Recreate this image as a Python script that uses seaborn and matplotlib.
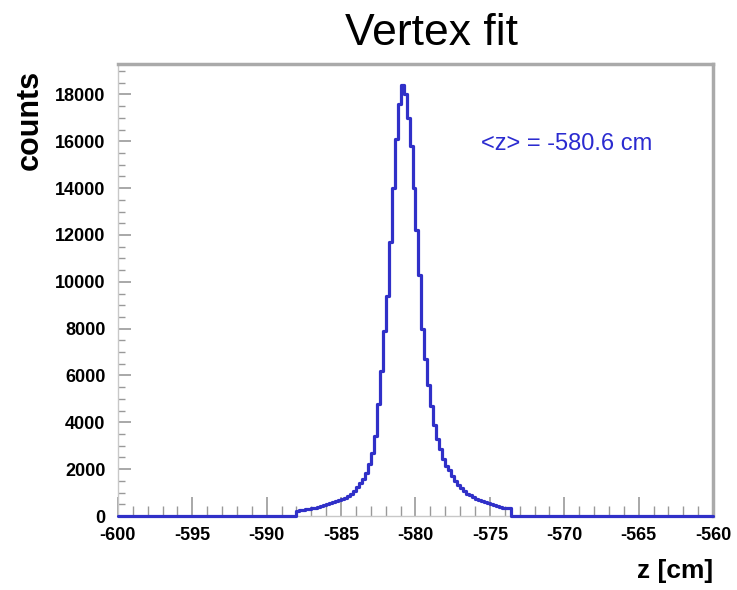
import numpy as np
import pandas as pd
import matplotlib
matplotlib.use("Agg")
import matplotlib.pyplot as plt
from matplotlib.ticker import MultipleLocator
import seaborn as sns

# ---- data ----
z_range = (-600.0, -560.0)
bin_width = 0.2
first_nonzero_edge = -588.0
counts = [
    200, 240, 270, 290, 310, 330, 360, 400, 430, 470,
    510, 550, 600, 650, 690, 730, 790, 850, 950, 1080,
    1220, 1400, 1600, 1850, 2200, 2700, 3400, 4800, 6200, 7900,
    9400, 11700, 14000, 16100, 17600, 18400, 18000, 17000, 15800, 14000,
    12200, 10300, 8000, 6700, 5600, 4700, 3900, 3300, 2850, 2450,
    2150, 1950, 1700, 1480, 1320, 1180, 1060, 960, 880, 800,
    730, 680, 630, 580, 540, 500, 460, 420, 390, 360,
    340, 330,
]
x_ticks = [-600, -595, -590, -585, -580, -575, -570, -565, -560]
y_ticks = [0, 2000, 4000, 6000, 8000, 10000, 12000, 14000, 16000, 18000]
title = "Vertex fit"
annotation = "<z> = -580.6 cm"

# ---- build histogram table ----
n_bins = int(round((z_range[1] - z_range[0]) / bin_width))
edges = np.linspace(z_range[0], z_range[1], n_bins + 1)
centers = (edges[:-1] + edges[1:]) / 2
weights = np.zeros(n_bins)
start = int(round((first_nonzero_edge - z_range[0]) / bin_width))
weights[start:start + len(counts)] = counts
df = pd.DataFrame({"z": centers, "w": weights})

sns.set_style("white")
plt.rcParams["font.family"] = ["Liberation Sans", "DejaVu Sans"]
plt.rcParams["text.color"] = "black"

fig = plt.figure(figsize=(7.37, 5.90), dpi=100)
ax = fig.add_axes([0.160, 0.1254, 0.8075, 0.7661])

line_color = "#3030c8"
sns.histplot(data=df, x="z", weights="w", binwidth=bin_width,
             binrange=z_range, element="step",
             fill=False, color=line_color, linewidth=2.3, ax=ax)
for art in ax.lines + ax.collections + ax.patches:
    art.set_clip_on(False)
    art.set_zorder(5)

ax.set_xlim(*z_range)
ax.set_ylim(0, 19300)
ax.set_xticks(x_ticks)
ax.set_xticklabels([str(t) for t in x_ticks])
ax.set_yticks(y_ticks)
ax.set_yticklabels([str(t) for t in y_ticks])
ax.xaxis.set_minor_locator(MultipleLocator(1))
ax.yaxis.set_minor_locator(MultipleLocator(500))

ax.tick_params(axis="both", which="both", direction="in", colors="#999999",
               labelcolor="black", bottom=True, left=True)
ax.tick_params(axis="x", which="major", length=14, width=1.2, pad=8)
ax.tick_params(axis="x", which="minor", length=7, width=1.0)
ax.tick_params(axis="y", which="major", length=9, width=1.2, pad=9)
ax.tick_params(axis="y", which="minor", length=5, width=1.0)
for lab in ax.get_xticklabels() + ax.get_yticklabels():
    lab.set_fontsize(13)
    lab.set_fontweight("bold")
    lab.set_color("black")

for side in ["top", "right"]:
    ax.spines[side].set_color("#aaaaaa")
    ax.spines[side].set_linewidth(2.5)
for side in ["left", "bottom"]:
    ax.spines[side].set_color("#c8c8c8")
    ax.spines[side].set_linewidth(1.0)

ax.set_xlabel("")
ax.set_ylabel("")
fig.text(0.040, 0.882, "counts", rotation=90, ha="center", va="top",
         fontsize=22, fontweight="bold", color="black")
fig.text(0.967, 0.012, "z [cm]", ha="right", va="bottom",
         fontsize=19, fontweight="bold", color="black")
fig.text(0.585, 0.943, title, ha="center", va="center", fontsize=32,
         color="black")
ax.text(0.61, 0.822, annotation, transform=ax.transAxes, ha="left",
        va="center", fontsize=17, color="#2b2bd0")

fig.savefig("out.png", dpi=100)
